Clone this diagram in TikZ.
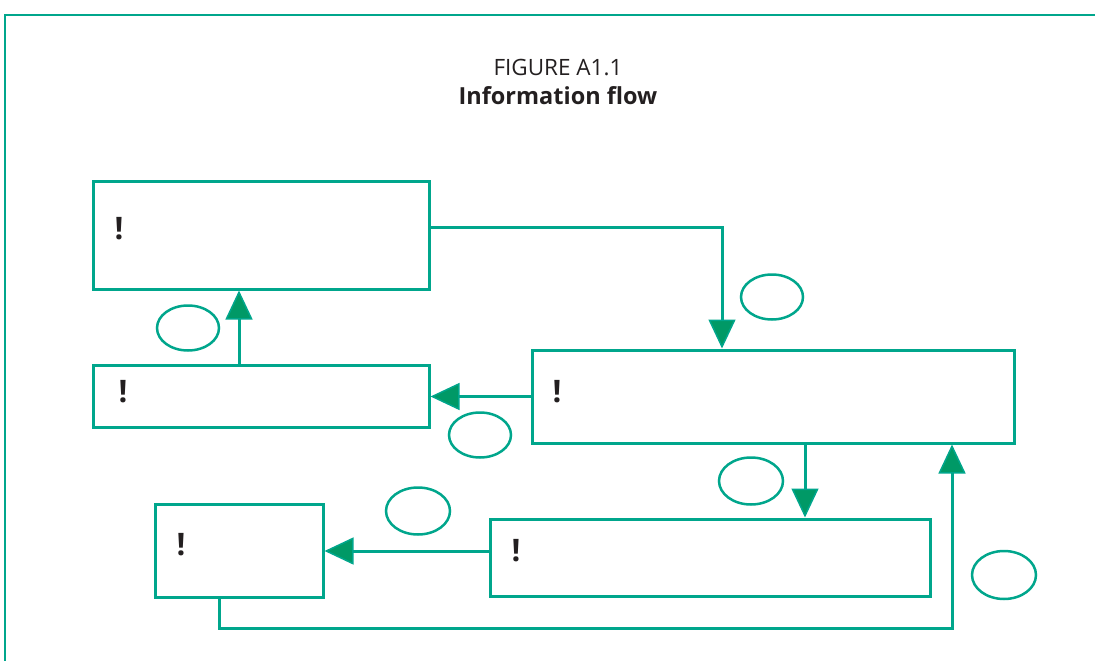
\documentclass[tikz,border=0pt]{standalone}
\usepackage{fontspec}
\setmainfont{Open Sans}
\usetikzlibrary{arrows.meta,shapes.geometric}
\definecolor{teal}{RGB}{0,166,140}
\definecolor{tipgreen}{RGB}{0,153,102}
\definecolor{ink}{RGB}{35,31,32}
\tikzset{
  stage/.style={draw=teal, line width=3pt, rectangle, inner sep=0pt},
  bang/.style={text=ink, font=\bfseries\fontsize{31}{34}\selectfont, inner sep=0pt},
  flow/.style={draw=teal, line width=3pt,
    -{Triangle[length=29pt,width=27pt,fill=tipgreen,line width=1.5pt]}},
  tag/.style={draw=teal, line width=2.5pt, ellipse, inner sep=0pt,
    minimum width=62pt, minimum height=45pt},
}
\begin{document}
\begin{tikzpicture}[x=1pt,y=-1pt]
  \useasboundingbox (0,0) rectangle (1095,661);
  \clip (0,0) rectangle (1095,661);
  % outer frame
  \draw[teal, line width=2pt] (5,15) rectangle (1110,680);
  % heading
  \node[text=ink, font=\fontsize{22.5}{26}\selectfont] (fig) at (558,68) {FIGURE A1.1};
  \node[text=ink, font=\bfseries\fontsize{23.5}{27}\selectfont] (title) at (558,95.5) {Information flow};
  % stages
  \node[stage, minimum width=336pt, minimum height=108pt] (A) at (261,235) {};
  \node[stage, minimum width=336pt, minimum height=62pt]  (B) at (261,396) {};
  \node[stage, minimum width=482pt, minimum height=93pt]  (C) at (773,396.5) {};
  \node[stage, minimum width=440pt, minimum height=77pt]  (D) at (710,557.5) {};
  \node[stage, minimum width=168pt, minimum height=93pt]  (E) at (239,550.5) {};
  % marks inside stages
  \node[bang] (mA) at (119,229) {!};
  \node[bang] (mB) at (123,392) {!};
  \node[bang] (mC) at (557,392) {!};
  \node[bang] (mD) at (516,551) {!};
  \node[bang] (mE) at (181,545) {!};
  % flows
  \draw[flow] ([yshift=8pt]A.east) -| ([xshift=-51pt]C.north);
  \draw[flow] (C.west) -- (C.west -| B.east);
  \draw[flow] ([xshift=-22pt]B.north) -- ([xshift=-22pt]B.north |- A.south);
  \draw[flow] ([xshift=32pt]C.south) -- ([xshift=32pt]C.south |- D.north);
  \draw[flow] ([yshift=6.5pt]D.west) -- ([yshift=6.5pt]D.west -| E.east);
  \coordinate (low) at (0,628);
  \draw[flow] ([xshift=-20pt]E.south) -- ([xshift=-20pt]E.south |- low)
    -| ([xshift=179pt]C.south);
  % empty tags
  \node[tag] (t1) at (188,328) {};
  \node[tag] (t2) at (772,297) {};
  \node[tag] (t3) at (480,435) {};
  \node[tag, minimum width=64pt, minimum height=47pt] (t4) at (751,481) {};
  \node[tag, minimum width=64pt, minimum height=47pt] (t5) at (418,511) {};
  \node[tag, minimum width=64pt, minimum height=48pt] (t6) at (1004,575) {};
\end{tikzpicture}
\end{document}
